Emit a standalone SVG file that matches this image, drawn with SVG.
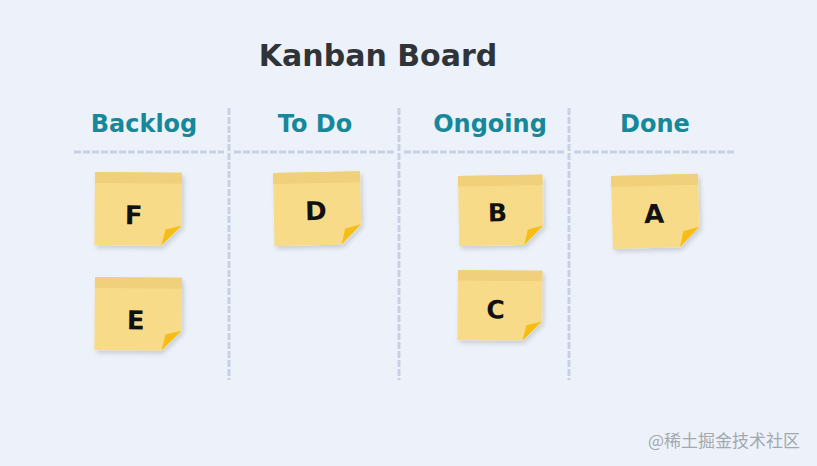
<svg xmlns="http://www.w3.org/2000/svg" width="817" height="466" viewBox="0 0 817 466">
<defs>
<style>
.title{font-family:"DejaVu Sans","Liberation Sans",sans-serif;font-weight:bold;font-size:30px;fill:#2f3438;text-anchor:middle}
.col{font-family:"DejaVu Sans","Liberation Sans",sans-serif;font-weight:bold;font-size:24px;fill:#17879a;text-anchor:middle}
.lbl{font-family:"DejaVu Sans","Liberation Sans",sans-serif;font-weight:bold;font-size:26px;fill:#111;text-anchor:middle}
.hl{stroke:#c8d1e4;stroke-width:3;stroke-dasharray:7 2;fill:none}
.vl{stroke:#c8d1e4;stroke-width:3;stroke-dasharray:7 2;fill:none}
.wm{font-family:"Noto Sans CJK SC","Liberation Sans",sans-serif;font-size:17px;fill:#a3a8b0}
</style>
<filter id="sh" x="-20%" y="-20%" width="150%" height="150%">
<feGaussianBlur in="SourceAlpha" stdDeviation="2.5"/>
<feOffset dx="2" dy="3"/>
<feComponentTransfer><feFuncA type="linear" slope="0.16"/></feComponentTransfer>
<feMerge><feMergeNode/><feMergeNode in="SourceGraphic"/></feMerge>
</filter>
<g id="note">
<path d="M0,0 H87 V53 L67,73 H0 Z" fill="#f8db89" filter="url(#sh)"/>
<rect x="0" y="0" width="87" height="11" fill="#f0d07a"/>
<path d="M87,53 L67,73 L71,57 Z" fill="#f6bd16"/>
</g>
</defs>
<rect width="817" height="466" fill="#edf2fa"/>
<text class="title" x="378" y="66">Kanban Board</text>
<g id="headers">
<text class="col" x="144" y="132">Backlog</text>
<text class="col" x="315" y="132">To Do</text>
<text class="col" x="490" y="132">Ongoing</text>
<text class="col" x="655" y="132">Done</text>
</g>
<g id="connectors">
<line class="hl" x1="74" y1="152" x2="224" y2="152"/>
<line class="hl" x1="234" y1="152" x2="394" y2="152"/>
<line class="hl" x1="404" y1="152" x2="564" y2="152"/>
<line class="hl" x1="574" y1="152" x2="735" y2="152"/>
<line class="vl" x1="229" y1="108" x2="229" y2="380"/>
<line class="vl" x1="399" y1="108" x2="399" y2="380"/>
<line class="vl" x1="569" y1="108" x2="569" y2="380"/>
</g>
<g id="noteF" transform="translate(95,172) rotate(0.5)"><use href="#note"/><text class="lbl" x="39" y="52">F</text></g>
<g id="noteE" transform="translate(95,277) rotate(0.5)"><use href="#note"/><text class="lbl" x="41" y="52">E</text></g>
<g id="noteD" transform="translate(273,173) rotate(-1.2)"><use href="#note"/><text class="lbl" x="42" y="48">D</text></g>
<g id="noteB" transform="translate(458,176) rotate(-1) scale(0.97,0.96)"><use href="#note"/><text class="lbl" x="40" y="48">B</text></g>
<g id="noteC" transform="translate(458,270) rotate(0.5) scale(0.97,0.96)"><use href="#note"/><text class="lbl" x="39" y="50">C</text></g>
<g id="noteA" transform="translate(611,176) rotate(-1.5)"><use href="#note"/><text class="lbl" x="42" y="48">A</text></g>
<text class="wm" x="648" y="447">@稀土掘金技术社区</text>
</svg>
